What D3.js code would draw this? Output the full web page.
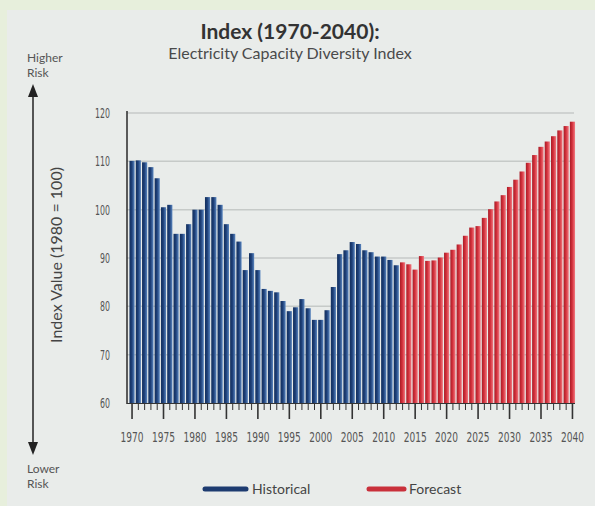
<!DOCTYPE html>
<html lang="en">
<head>
  <meta charset="UTF-8">
  <title>Electricity Capacity Diversity Index</title>
  <script src="https://d3js.org/d3.v7.min.js"></script>
  <style>
    body { margin: 0; background: #e7efdc; }
    svg { display: block; }
    text { font-family: Lato, "Open Sans", sans-serif; }
    .cond { font-family: "DejaVu Sans Condensed", "Liberation Sans Narrow", "DejaVu Sans", sans-serif; }
  </style>
</head>
<body>
  <svg id="chart"></svg>
  <script>
    // chart values
    const startYear = 1970, splitYear = 2013, endYear = 2040;
    const historicalValues = [
      110.1, 110.2, 109.8, 108.8, 106.5, 100.5, 101, 95, 95, 97,
      100, 100, 102.6, 102.6, 101, 97, 95, 93.4, 87.5, 91,
      87.5, 83.6, 83.2, 82.9, 81.1, 79, 79.8, 81.5, 79.6, 77.2,
      77.2, 79.2, 84, 90.8, 91.6, 93.3, 92.9, 91.6, 91.2, 90.3,
      90.3, 89.6, 88.5
    ];
    const forecastValues = [
      89.1, 88.7, 87.6, 90.4, 89.4, 89.5, 90.1, 91.1, 91.7, 92.8,
      94.6, 96.3, 96.6, 98.3, 100.1, 101.7, 103.0, 104.7, 106.2, 107.9,
      109.7, 111.3, 113.0, 114.1, 115.2, 116.4, 117.3, 118.2
    ];
    const yTicks = [60, 70, 80, 90, 100, 110, 120];
    const xLabelYears = d3.range(1970, 2041, 5);
    const seriesNames = ["Historical", "Forecast"];

    const W = 595, H = 506;
    const svg = d3.select("#chart").attr("width", W).attr("height", H);

    // gradients for the bars
    const defs = svg.append("defs");
    const grads = [
      { id: "gBlue", stops: ["#132f5c", "#1d3f78", "#5a86bf"] },
      { id: "gRed", stops: ["#a81c27", "#d3303b", "#f27a82"] }
    ];
    grads.forEach(g => {
      const lg = defs.append("linearGradient").attr("id", g.id)
        .attr("x1", "0%").attr("x2", "100%").attr("y1", "0%").attr("y2", "0%");
      lg.append("stop").attr("offset", "0%").attr("stop-color", g.stops[0]);
      lg.append("stop").attr("offset", "45%").attr("stop-color", g.stops[1]);
      lg.append("stop").attr("offset", "100%").attr("stop-color", g.stops[2]);
    });

    // panel
    svg.append("rect").attr("x", 7).attr("y", 10).attr("width", W - 7).attr("height", H - 10)
      .attr("fill", "#e9ecea");

    const data = historicalValues.map((v, i) => ({ year: startYear + i, value: v, kind: "Historical" }))
      .concat(forecastValues.map((v, i) => ({ year: splitYear + i, value: v, kind: "Forecast" })));

    const x = d3.scaleBand()
      .domain(d3.range(startYear, endYear + 1))
      .range([128.9, 575.6])
      .paddingInner(0.18)
      .paddingOuter(0.09);
    const y = d3.scaleLinear().domain([60, 120]).range([403, 113]);

    // gridlines
    svg.append("g").selectAll("line")
      .data(yTicks.filter(d => d > 60))
      .join("line")
      .attr("x1", 127).attr("x2", 574)
      .attr("y1", d => y(d)).attr("y2", d => y(d))
      .attr("stroke", "#c6cac8").attr("stroke-width", 1.5);

    // bars
    svg.append("g").selectAll("rect")
      .data(data)
      .join("rect")
      .attr("x", d => x(d.year))
      .attr("width", x.bandwidth())
      .attr("y", d => y(d.value))
      .attr("height", d => y(60) - y(d.value))
      .attr("fill", d => d.kind === "Historical" ? "url(#gBlue)" : "url(#gRed)");

    // y axis
    svg.append("line").attr("x1", 127).attr("x2", 127).attr("y1", 111).attr("y2", 404)
      .attr("stroke", "#2a2a2a").attr("stroke-width", 1.5);
    svg.append("g").selectAll("text")
      .data(yTicks)
      .join("text")
      .attr("class", "cond")
      .attr("x", 110).attr("y", d => y(d) + 5)
      .attr("text-anchor", "end")
      .attr("font-size", 14)
      .attr("fill", "#555")
      .attr("textLength", d => String(d).length * 5)
      .attr("lengthAdjust", "spacingAndGlyphs")
      .text(d => d);

    // x axis ticks
    const xc = d => x(d) + x.bandwidth() / 2;
    svg.append("line").attr("x1", 127).attr("x2", 575).attr("y1", 403.5).attr("y2", 403.5)
      .attr("stroke", "#333").attr("stroke-width", 1);
    svg.append("g").selectAll("line")
      .data(x.domain())
      .join("line")
      .attr("x1", xc).attr("x2", xc)
      .attr("y1", 403)
      .attr("y2", d => d % 5 === 0 ? 419 : 410)
      .attr("stroke", "#333")
      .attr("stroke-width", d => d % 5 === 0 ? 1.6 : 1);
    svg.append("g").selectAll("text")
      .data(xLabelYears)
      .join("text")
      .attr("class", "cond")
      .attr("x", xc).attr("y", 442)
      .attr("text-anchor", "middle")
      .attr("font-size", 14)
      .attr("fill", "#555")
      .attr("textLength", 23)
      .attr("lengthAdjust", "spacingAndGlyphs")
      .text(d => d);

    // titles
    svg.append("text").attr("x", 290).attr("y", 39).attr("text-anchor", "middle")
      .attr("font-size", 21).attr("font-weight", "bold").attr("fill", "#333")
      .text("Index (1970-2040):");
    svg.append("text").attr("x", 290).attr("y", 59).attr("text-anchor", "middle")
      .attr("font-size", 16).attr("fill", "#4a4a4a")
      .text("Electricity Capacity Diversity Index");

    // risk arrow on the left
    svg.append("line").attr("x1", 33).attr("x2", 33).attr("y1", 92).attr("y2", 448)
      .attr("stroke", "#555").attr("stroke-width", 2);
    svg.append("path").attr("d", "M33,84 L28,97 L38,97 Z").attr("fill", "#222");
    svg.append("path").attr("d", "M33,455 L28,442 L38,442 Z").attr("fill", "#222");
    const riskText = [["Higher", 62], ["Risk", 77], ["Lower", 473], ["Risk", 488]];
    svg.append("g").selectAll("text")
      .data(riskText)
      .join("text")
      .attr("x", 27).attr("y", d => d[1])
      .attr("font-size", 12).attr("fill", "#555")
      .text(d => d[0]);

    svg.append("text")
      .attr("transform", "translate(62,255) rotate(-90)")
      .attr("text-anchor", "middle")
      .attr("font-size", 16).attr("fill", "#444")
      .text("Index Value (1980 = 100)");

    // legend
    const legend = [
      { name: seriesNames[0], x1: 205, x2: 246, tx: 252, color: "#1d3b70" },
      { name: seriesNames[1], x1: 369, x2: 404, tx: 409, color: "#c9303b" }
    ];
    const lg = svg.append("g").selectAll("g").data(legend).join("g");
    lg.append("line")
      .attr("x1", d => d.x1).attr("x2", d => d.x2)
      .attr("y1", 489).attr("y2", 489)
      .attr("stroke", d => d.color).attr("stroke-width", 5)
      .attr("stroke-linecap", "round");
    lg.append("text")
      .attr("x", d => d.tx).attr("y", 494)
      .attr("font-size", 14).attr("fill", "#444")
      .text(d => d.name);
  </script>
</body>
</html>
